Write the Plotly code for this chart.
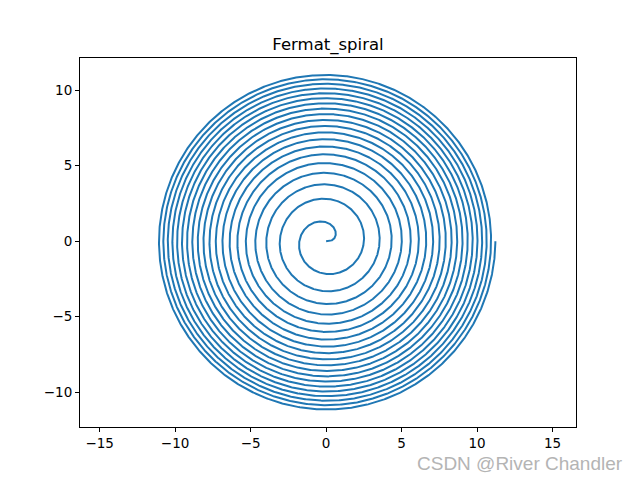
import numpy as np
import plotly.graph_objects as go

# Fermat spiral parameters: r = a*sqrt(theta), 20 turns (ends at x≈11.2)
a = 1.0
turns = 20
n_points = 20000
title_text = "Fermat_spiral"
x_ticks = [-15, -10, -5, 0, 5, 10, 15]
y_ticks = [-10, -5, 0, 5, 10]

theta = np.linspace(0, 2 * np.pi * turns, n_points)
r = a * np.sqrt(theta)
x = r * np.cos(theta)
y = r * np.sin(theta)

fig = go.Figure(go.Scatter(x=x, y=y, mode="lines",
                           line=dict(color="#1f77b4", width=2), hoverinfo="skip"))

axis_common = dict(showgrid=False, zeroline=False, showline=True, linecolor="black",
                   linewidth=1, mirror=True, ticks="outside", ticklen=4,
                   tickcolor="black", tickfont=dict(family="DejaVu Sans", size=13.5, color="black"))

# page body has an 8px margin: shift the figure content up/left by 8px
off = 8
fig.update_layout(
    width=640, height=480,
    paper_bgcolor="white", plot_bgcolor="white",
    margin=dict(l=80 - off, r=640 - (80 - off) - 496, t=58 - off, b=480 - (58 - off) - 369),
    showlegend=False,
    title=dict(text=title_text, x=(80 - off + 248) / 640, xanchor="center",
               y=1 - (44 - off) / 480, yanchor="middle",
               font=dict(family="DejaVu Sans", size=16.5, color="black")),
    xaxis=dict(range=[-16.3, 16.55], tickvals=x_ticks, ticktext=[str(v).replace("-", "−") for v in x_ticks], **axis_common),
    yaxis=dict(range=[-12.3, 12.12], tickvals=y_ticks, ticktext=[str(v).replace("-", "−") for v in y_ticks], **axis_common),
    annotations=[dict(text="CSDN @River Chandler", xref="paper", yref="paper",
                      x=(625 - 80) / 496, y=-(463 - 427) / 369, xanchor="right", yanchor="middle",
                      showarrow=False, font=dict(family="Liberation Sans", size=19, color="#b4b4b4"))],
)

fig.write_html("out.html")
